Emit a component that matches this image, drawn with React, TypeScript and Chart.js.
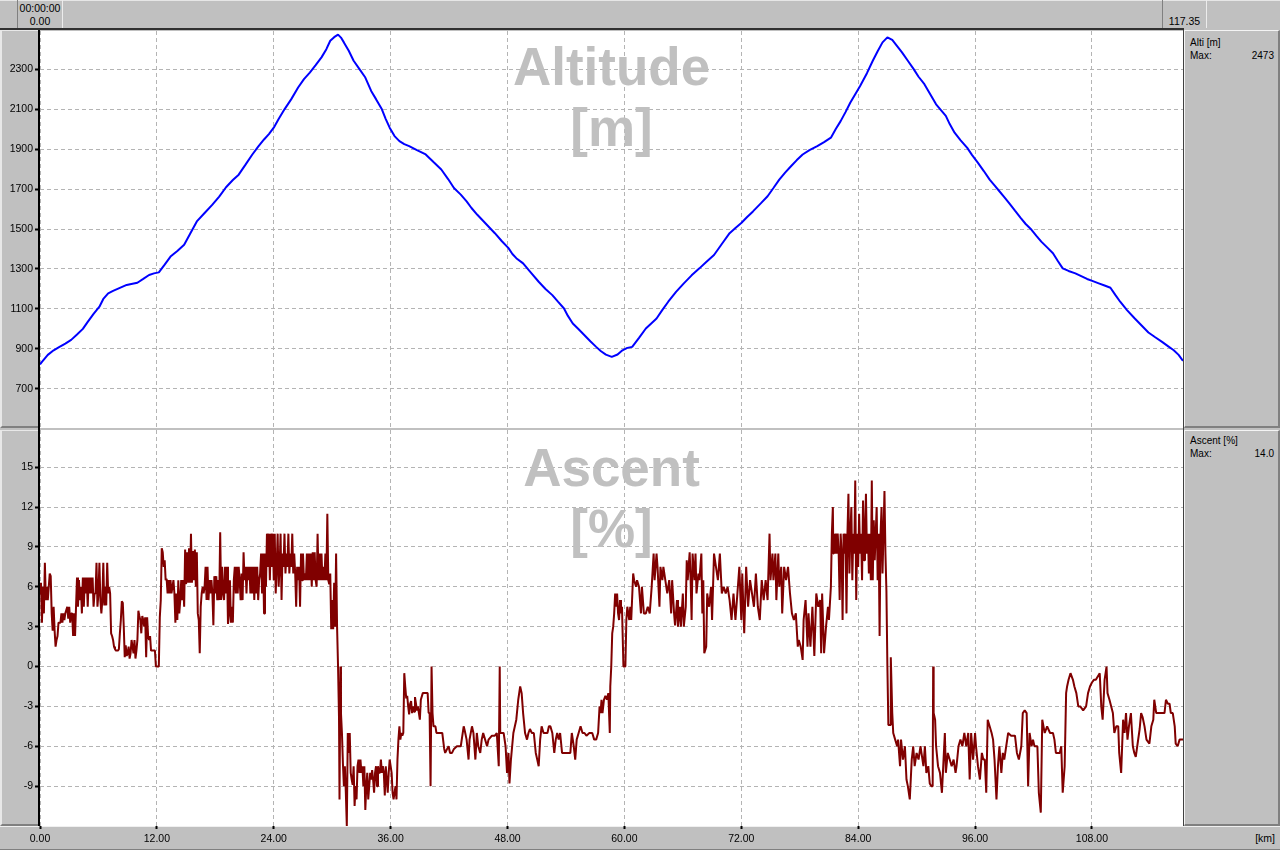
import React, { useEffect, useRef } from "react";
import { Chart, registerables } from "chart.js";

Chart.register(...registerables);

const FONT = '"Liberation Sans", Arial, sans-serif';
const KM_MAX = 117.35;
const ALT_MAX_LABEL = "2473";
const ASC_MAX_LABEL = "14.0";
const TRIP_TIME = "00:00:00";
const TRIP_START = "0.00";
const TRIP_END = "117.35";

const xTickValues = [0, 12, 24, 36, 48, 60, 72, 84, 96, 108];
const altTickValues = [700, 900, 1100, 1300, 1500, 1700, 1900, 2100, 2300];
const ascTickValues = [-9, -6, -3, 0, 3, 6, 9, 12, 15];

// Altitude profile: distance [km] and altitude [m]
const altKm = [0, 0.2, 0.8, 1.4, 2.0, 2.6, 3.2, 3.8, 4.4, 4.9, 5.5, 6.1, 6.5, 7.0, 7.5, 8.2, 8.9, 9.5, 10.0, 10.6, 11.2, 11.7, 12.2, 12.8, 13.4, 14.1, 14.8, 15.4, 16.1, 16.9, 17.7, 18.4, 19.1, 19.8, 20.4, 21.1, 21.8, 22.4, 23.0, 23.5, 24.0, 24.5, 25.1, 25.8, 26.5, 27.1, 27.7, 28.3, 28.9, 29.4, 29.8, 30.2, 30.6, 30.9, 31.2, 31.7, 32.2, 32.8, 33.4, 34.0, 34.5, 35.1, 35.5, 35.9, 36.4, 36.9, 37.4, 37.9, 38.7, 39.6, 40.4, 41.2, 41.9, 42.5, 43.2, 43.8, 44.3, 44.9, 45.8, 46.7, 47.4, 48.1, 48.5, 48.9, 49.6, 50.4, 51.2, 51.9, 52.6, 53.2, 53.8, 54.2, 54.7, 55.3, 55.9, 56.5, 57.1, 57.6, 58.1, 58.7, 59.3, 59.8, 60.3, 60.8, 61.5, 62.2, 62.7, 63.3, 63.9, 64.5, 65.3, 66.1, 66.9, 67.7, 68.4, 69.2, 70.0, 70.8, 71.4, 72.0, 72.6, 73.2, 74.0, 74.7, 75.3, 75.9, 76.5, 77.1, 77.7, 78.3, 79.0, 79.8, 80.5, 81.2, 81.7, 82.2, 82.7, 83.2, 83.7, 84.2, 84.9, 85.5, 86.0, 86.5, 87.0, 87.5, 88.0, 88.5, 89.1, 89.7, 90.2, 90.8, 91.4, 92.0, 92.5, 93.0, 93.4, 93.9, 94.5, 95.2, 95.7, 96.3, 96.9, 97.5, 98.0, 98.5, 99.0, 99.5, 100.1, 100.7, 101.2, 101.8, 102.3, 102.8, 103.4, 104.0, 104.5, 105.0, 105.6, 106.3, 106.9, 107.5, 108.1, 108.7, 109.3, 109.9, 110.4, 110.9, 111.6, 112.4, 113.1, 113.8, 114.5, 115.2, 115.8, 116.4, 116.9, 117.35];
const altM = [822, 835, 870, 893, 910, 926, 945, 972, 1000, 1035, 1075, 1111, 1150, 1178, 1190, 1205, 1220, 1226, 1231, 1250, 1270, 1278, 1283, 1322, 1362, 1390, 1421, 1475, 1538, 1580, 1622, 1662, 1709, 1745, 1772, 1822, 1873, 1912, 1948, 1975, 2007, 2050, 2099, 2150, 2208, 2250, 2283, 2320, 2359, 2400, 2442, 2460, 2473, 2458, 2434, 2392, 2342, 2300, 2258, 2191, 2150, 2099, 2050, 2007, 1965, 1940, 1925, 1915, 1895, 1873, 1835, 1798, 1750, 1705, 1672, 1638, 1605, 1571, 1525, 1479, 1440, 1404, 1375, 1354, 1328, 1282, 1236, 1200, 1169, 1135, 1102, 1065, 1027, 998, 968, 938, 910, 888, 871, 860, 872, 893, 905, 910, 955, 1002, 1025, 1052, 1095, 1136, 1185, 1228, 1268, 1303, 1335, 1370, 1425, 1479, 1505, 1530, 1560, 1588, 1628, 1664, 1705, 1747, 1782, 1814, 1845, 1873, 1895, 1915, 1935, 1957, 2000, 2040, 2085, 2133, 2175, 2216, 2280, 2342, 2390, 2434, 2459, 2446, 2415, 2384, 2342, 2300, 2262, 2225, 2175, 2124, 2095, 2066, 2025, 1982, 1945, 1906, 1870, 1831, 1790, 1747, 1718, 1689, 1660, 1630, 1592, 1555, 1525, 1496, 1466, 1437, 1408, 1379, 1340, 1303, 1290, 1278, 1264, 1250, 1239, 1228, 1217, 1206, 1170, 1136, 1094, 1052, 1017, 982, 958, 935, 914, 893, 870, 840];

// Ascent [%] as [km, percent] readings, by stage
const ascentStage1: [number, number][] = [
  [0.0, 5.5], [0.1, 6.3], [0.2, 3.3], [0.3, 6.0], [0.4, 4.0], [0.5, 7.8], [0.6, 5.0], [0.7, 6.0], [0.8, 5.0], [0.9, 6.0],
  [1.0, 7.0], [1.1, 6.8], [1.2, 4.0], [1.3, 2.7], [1.4, 4.5], [1.5, 2.7], [1.6, 1.5], [1.7, 2.0], [1.8, 2.3], [1.9, 3.3],
  [2.1, 3.3], [2.2, 4.0], [2.3, 3.3], [2.4, 4.0], [2.5, 3.5], [2.6, 4.0], [2.8, 4.5], [2.9, 3.6], [3.0, 4.5], [3.1, 3.3],
  [3.2, 4.0], [3.3, 4.0], [3.4, 2.3], [3.5, 4.0], [3.6, 2.3], [3.7, 4.5], [3.8, 6.7], [3.9, 4.5], [4.0, 6.5], [4.1, 5.0],
  [4.2, 6.0], [4.3, 4.0], [4.4, 6.7], [4.5, 4.5], [4.6, 6.7], [4.7, 5.5], [4.8, 6.7], [4.9, 4.5], [5.0, 6.7], [5.1, 5.5],
  [5.2, 6.7], [5.3, 5.5], [5.4, 6.7], [5.5, 4.5], [5.6, 5.5], [5.7, 5.5], [5.8, 7.8], [5.9, 4.5], [6.0, 5.5], [6.1, 7.8],
  [6.2, 5.0], [6.3, 4.0], [6.4, 5.0], [6.5, 7.8], [6.6, 4.6], [6.7, 6.0], [6.8, 4.6], [6.9, 7.8], [7.0, 5.5], [7.1, 6.0],
  [7.2, 5.5], [7.3, 2.5], [7.4, 2.3], [7.5, 2.0], [7.6, 1.5], [7.7, 1.3], [7.8, 1.2], [8.0, 1.2], [8.1, 1.3], [8.2, 2.5],
  [8.3, 3.5], [8.4, 4.9], [8.5, 4.8], [8.6, 3.0], [8.7, 0.7], [8.8, 1.6], [8.9, 0.8], [9.0, 1.0], [9.1, 1.5], [9.2, 0.6],
  [9.3, 1.0], [9.4, 2.0], [9.5, 1.5], [9.6, 1.0], [9.7, 2.0], [9.8, 0.6], [9.9, 1.2], [10.0, 2.0], [10.1, 4.2], [10.2, 3.8],
  [10.3, 3.5], [10.4, 2.5], [10.5, 3.8], [10.6, 3.5], [10.7, 3.0], [10.8, 3.7], [10.9, 0.7], [11.0, 3.7], [11.1, 2.3], [11.2, 2.0],
  [11.3, 2.3], [11.4, 1.2], [11.6, 1.2], [11.8, 1.2], [11.9, 0.0], [12.1, 0.0],
];
const ascentStage2: [number, number][] = [
  [12.2, 0.0], [12.3, 3.7], [12.4, 5.0], [12.5, 8.9], [12.6, 8.6], [12.7, 7.5], [12.8, 8.0], [12.9, 6.5], [13.0, 6.6], [13.1, 5.5],
  [13.2, 6.5], [13.3, 5.5], [13.4, 6.5], [13.5, 5.5], [13.6, 6.0], [13.7, 6.5], [13.8, 5.5], [13.9, 3.3], [14.0, 5.5], [14.1, 3.5],
  [14.2, 6.5], [14.3, 4.0], [14.4, 5.0], [14.5, 6.5], [14.6, 5.0], [14.7, 6.5], [14.8, 4.5], [14.9, 8.8], [15.0, 6.2], [15.1, 8.6],
  [15.2, 6.3], [15.3, 8.9], [15.4, 6.3], [15.5, 10.0], [15.6, 6.3], [15.7, 8.7], [15.8, 6.5], [15.9, 8.8], [16.0, 6.0], [16.1, 8.6],
  [16.2, 4.0], [16.3, 3.5], [16.4, 1.0], [16.5, 4.5], [16.6, 5.5], [16.7, 6.0], [16.8, 5.5], [16.9, 6.0], [17.0, 7.5], [17.1, 5.0],
  [17.2, 7.5], [17.3, 5.0], [17.4, 6.5], [17.5, 5.5], [17.6, 6.5], [17.7, 5.5], [17.8, 3.1], [17.9, 6.8], [18.0, 5.5], [18.1, 6.8],
  [18.2, 5.0], [18.3, 6.5], [18.4, 5.0], [18.5, 10.1], [18.6, 5.0], [18.7, 7.5], [18.8, 5.5], [18.9, 5.0], [19.0, 7.5], [19.1, 5.5],
  [19.2, 7.5], [19.3, 3.2], [19.4, 4.0], [19.5, 6.5], [19.6, 3.3], [19.7, 4.5], [19.8, 3.3], [19.9, 6.5], [20.0, 7.5], [20.1, 5.5],
  [20.2, 7.5], [20.3, 5.5], [20.4, 7.5], [20.5, 6.5], [20.6, 5.0], [20.7, 7.0], [20.8, 5.0], [20.9, 8.6], [21.0, 6.5], [21.1, 7.5],
  [21.2, 5.5], [21.3, 7.5], [21.4, 6.5], [21.5, 7.5], [21.6, 5.5], [21.7, 7.5], [21.8, 5.5], [21.9, 7.5], [22.0, 5.0], [22.1, 7.5],
  [22.2, 5.5], [22.3, 7.5], [22.4, 5.0], [22.5, 6.5], [22.6, 7.0], [22.7, 8.5], [22.8, 5.5], [22.9, 8.5], [23.0, 4.0], [23.1, 8.5],
  [23.2, 6.0], [23.3, 10.0], [23.4, 7.5], [23.5, 10.0], [23.6, 6.5], [23.7, 10.0], [23.8, 7.5], [23.9, 10.0], [24.0, 6.5], [24.1, 10.0],
  [24.2, 5.5], [24.3, 7.5], [24.4, 10.0], [24.5, 6.0], [24.6, 7.5], [24.7, 10.0], [24.8, 5.0], [24.9, 8.5], [25.0, 7.5], [25.1, 10.0],
  [25.2, 7.0], [25.3, 8.5], [25.4, 7.5], [25.5, 10.0], [25.6, 7.0], [25.7, 8.5], [25.8, 7.5], [25.9, 10.0], [26.0, 7.0], [26.1, 8.5],
  [26.2, 7.0], [26.3, 4.5], [26.4, 7.5], [26.5, 6.5], [26.6, 7.5], [26.7, 4.5], [26.8, 8.5], [26.9, 6.5], [27.0, 8.5], [27.1, 6.5],
  [27.2, 7.0], [27.3, 6.5], [27.4, 8.5], [27.5, 6.5], [27.6, 8.5], [27.7, 6.5], [27.8, 8.5], [27.9, 6.0], [28.0, 8.6], [28.1, 6.5],
  [28.2, 8.6], [28.3, 6.5], [28.4, 6.0], [28.5, 10.0], [28.6, 6.5], [28.7, 8.5], [28.8, 6.5], [28.9, 8.5], [29.0, 6.5], [29.1, 7.5],
  [29.2, 6.5], [29.3, 8.5], [29.4, 6.5], [29.5, 11.5], [29.6, 6.5], [29.7, 6.2], [29.8, 7.0], [29.9, 2.8], [30.0, 5.0], [30.1, 2.8],
  [30.2, 6.3], [30.3, 3.0], [30.4, 8.5], [30.5, 3.0],
];
const ascentStage3: [number, number][] = [
  [30.6, 0.0], [30.7, -3.9], [30.75, -10.0], [30.85, 0.0], [30.9, -3.5], [31.0, -5.0], [31.1, -7.3], [31.2, -9.0], [31.3, -7.5], [31.4, -9.5],
  [31.5, -12.0], [31.6, -5.0], [31.7, -6.5], [31.8, -5.0], [31.9, -8.0], [32.0, -8.5], [32.1, -8.9], [32.2, -7.5], [32.3, -10.5], [32.4, -9.0],
  [32.5, -10.0], [32.6, -7.5], [32.7, -7.0], [32.8, -8.0], [32.9, -7.0], [33.0, -8.0], [33.1, -7.5], [33.2, -9.0], [33.3, -7.5], [33.4, -10.8],
  [33.5, -9.0], [33.6, -8.0], [33.7, -10.0], [33.8, -9.0], [33.9, -8.0], [34.0, -8.5], [34.1, -7.8], [34.2, -8.5], [34.3, -9.5], [34.4, -8.0],
  [34.5, -7.5], [34.6, -9.0], [34.7, -7.5], [34.8, -8.0], [34.9, -8.0], [35.0, -7.0], [35.1, -8.0], [35.2, -7.5], [35.3, -8.0], [35.4, -9.7],
  [35.5, -7.5], [35.6, -8.5], [35.7, -9.5], [35.8, -8.0], [35.9, -7.0], [36.0, -7.5], [36.1, -8.0], [36.2, -9.5], [36.3, -10.0], [36.4, -9.5],
  [36.5, -9.0], [36.6, -10.0], [36.7, -7.0], [36.8, -5.5], [36.9, -4.5], [37.0, -5.5], [37.1, -5.0], [37.2, -5.2], [37.3, -5.0], [37.4, -0.5],
  [37.5, -1.5], [37.6, -2.4], [37.7, -2.2], [37.8, -3.0], [37.9, -3.6], [38.0, -2.8], [38.1, -2.6], [38.2, -3.5], [38.3, -3.0], [38.4, -3.4],
  [38.5, -2.3], [38.6, -2.8], [38.7, -3.3], [38.8, -3.0], [38.9, -3.5], [39.0, -4.0], [39.1, -2.5], [39.3, -2.0], [39.5, -2.0], [39.7, -2.0],
  [39.8, -2.0], [39.9, -3.5], [40.0, -3.5], [40.1, -9.0], [40.2, 0.0], [40.3, -3.5], [40.4, -4.5], [40.6, -4.5],
];
const ascentStage4: [number, number][] = [
  [40.7, -5.0], [41.0, -5.0], [41.3, -5.0], [41.5, -6.2], [41.6, -6.5], [41.8, -6.2], [41.95, -6.0], [42.1, -6.5], [42.3, -6.5], [42.5, -6.2],
  [42.8, -6.0], [43.0, -6.0], [43.2, -6.0], [43.5, -4.5], [43.6, -4.8], [43.8, -5.5], [44.0, -7.0], [44.1, -5.5], [44.35, -4.5], [44.5, -5.0],
  [44.7, -7.0], [44.85, -5.0], [45.0, -6.0], [45.2, -6.5], [45.35, -5.5], [45.5, -5.0], [45.7, -5.5], [45.9, -6.0], [46.05, -5.5], [46.4, -5.2],
  [46.7, -5.2], [46.9, -5.0], [47.1, -7.5], [47.2, 0.0], [47.25, -5.0], [47.4, -5.0], [47.6, -5.0], [47.8, -6.0], [47.95, -8.0], [48.1, -6.5],
  [48.2, -8.8], [48.35, -7.0], [48.6, -5.0], [48.9, -4.0], [49.1, -2.5], [49.3, -1.5], [49.45, -2.0], [49.6, -3.5], [49.8, -5.0], [50.0, -5.5],
  [50.15, -5.0], [50.3, -4.7], [50.5, -5.0], [50.7, -5.0], [50.9, -6.5], [51.05, -7.0], [51.2, -7.5], [51.35, -5.5], [51.5, -4.5], [51.7, -5.0],
  [51.9, -5.0], [52.1, -5.0], [52.25, -4.5], [52.4, -4.5], [52.6, -5.0], [52.8, -6.5], [52.95, -5.5], [53.1, -5.0], [53.25, -5.5], [53.4, -5.0],
  [53.6, -6.5], [53.9, -6.5], [54.2, -6.5], [54.45, -6.5], [54.6, -5.0], [54.8, -6.0], [54.95, -7.0], [55.1, -5.5], [55.3, -5.0], [55.5, -4.5],
  [55.7, -5.0], [55.9, -5.0], [56.1, -5.2], [56.4, -5.0], [56.7, -5.0], [56.9, -5.5], [57.1, -5.5], [57.3, -5.0], [57.45, -3.0], [57.55, -3.5],
  [57.65, -2.5], [57.75, -3.5], [57.9, -2.5], [58.05, -2.2], [58.2, -2.5], [58.35, -2.0], [58.5, -5.0], [58.55, -1.5], [58.65, 0.0], [58.75, 2.5],
  [58.85, 3.0], [58.95, 4.0], [59.05, 5.5], [59.15, 4.5], [59.25, 5.5], [59.35, 4.0], [59.45, 3.5], [59.55, 5.0], [59.65, 4.0], [59.75, 4.5],
  [59.9, 0.0], [60.1, 0.0],
];
const ascentStage5: [number, number][] = [
  [60.2, 3.5], [60.3, 4.5], [60.5, 3.5], [60.6, 4.5], [60.7, 3.5], [60.9, 7.0], [61.0, 6.5], [61.2, 6.0], [61.3, 6.5], [61.5, 6.0],
  [61.7, 4.0], [61.8, 6.0], [62.0, 4.0], [62.2, 4.0], [62.4, 4.5], [62.6, 4.0], [62.8, 6.0], [63.0, 8.5], [63.1, 6.5], [63.3, 8.5],
  [63.4, 7.5], [63.6, 4.5], [63.7, 7.5], [63.9, 6.5], [64.0, 7.5], [64.2, 6.5], [64.4, 5.5], [64.6, 6.5], [64.8, 4.0], [64.9, 6.5],
  [65.1, 4.0], [65.2, 3.1], [65.4, 5.0], [65.5, 3.0], [65.7, 4.5], [65.8, 3.0], [66.0, 5.5], [66.1, 3.0], [66.3, 4.5], [66.4, 8.0],
  [66.5, 6.5], [66.7, 8.6], [66.8, 6.5], [66.9, 3.5], [67.0, 8.5], [67.2, 6.5], [67.3, 8.5], [67.4, 5.5], [67.6, 7.0], [67.7, 6.5],
  [67.9, 8.5], [68.0, 4.0], [68.1, 6.5], [68.2, 1.0], [68.4, 1.5], [68.5, 5.5], [68.7, 4.5], [68.9, 6.0], [69.0, 3.5], [69.2, 8.5],
  [69.4, 7.5], [69.6, 6.5], [69.8, 8.5], [70.0, 5.5], [70.2, 6.0], [70.4, 5.5], [70.6, 6.0], [70.8, 5.0], [71.0, 3.5], [71.2, 5.5],
  [71.4, 3.5], [71.6, 5.5], [71.8, 7.5], [72.0, 3.5], [72.1, 7.0], [72.3, 2.5], [72.5, 7.5], [72.7, 4.5], [72.9, 6.5], [73.1, 5.5],
  [73.3, 4.5], [73.5, 7.0], [73.7, 4.5], [73.9, 3.5], [74.1, 6.5], [74.3, 5.0], [74.5, 6.5], [74.7, 5.0], [74.9, 10.0], [75.0, 6.5],
  [75.2, 8.5], [75.3, 6.5], [75.5, 8.5], [75.6, 5.0], [75.8, 8.5], [75.9, 6.0], [76.1, 7.5], [76.2, 4.0], [76.4, 7.5], [76.6, 6.5],
  [76.8, 7.5], [77.0, 5.5], [77.2, 4.0], [77.4, 3.5], [77.6, 4.0], [77.8, 1.5], [77.9, 2.0], [78.1, 1.5], [78.3, 0.5], [78.4, 3.5],
  [78.6, 5.0], [78.8, 1.5], [78.9, 4.0], [79.1, 1.5], [79.3, 4.5], [79.5, 0.8], [79.7, 5.5], [79.9, 4.5], [80.1, 5.0], [80.2, 1.0],
  [80.3, 5.5], [80.5, 1.0], [80.7, 3.0], [80.9, 4.5], [81.0, 3.5], [81.2, 6.0], [81.3, 10.0], [81.4, 12.0], [81.45, 8.5], [81.5, 10.0],
  [81.6, 8.5], [81.7, 10.0], [81.8, 8.5], [81.9, 10.0], [82.0, 8.5], [82.1, 5.0], [82.2, 10.0], [82.3, 8.5], [82.4, 3.5], [82.5, 10.0],
  [82.6, 8.5], [82.7, 10.0], [82.8, 4.0], [82.9, 10.0], [83.0, 13.0], [83.1, 7.0], [83.2, 10.0], [83.3, 12.0], [83.4, 6.5], [83.5, 10.0],
  [83.6, 8.5], [83.7, 14.0], [83.8, 5.0], [83.9, 10.0], [84.0, 7.5], [84.1, 11.5], [84.2, 8.5], [84.3, 10.0], [84.4, 6.5], [84.5, 12.5],
  [84.6, 8.0], [84.7, 10.0], [84.8, 13.0], [84.9, 8.5], [85.0, 10.0], [85.1, 7.0], [85.2, 10.0], [85.3, 6.5], [85.4, 14.0], [85.5, 6.5],
  [85.6, 11.0], [85.7, 8.0], [85.8, 10.0], [85.9, 12.0], [86.0, 6.5], [86.1, 10.0], [86.2, 2.3], [86.3, 10.0], [86.4, 12.0], [86.5, 7.0],
  [86.6, 10.0], [86.7, 13.2], [86.8, 8.5], [86.9, 5.7], [87.0, 0.0], [87.1, -4.4], [87.3, -4.4], [87.35, 0.7], [87.5, -3.5], [87.6, -5.0],
];
const ascentStage6: [number, number][] = [
  [87.8, -5.5], [88.0, -6.0], [88.1, -5.5], [88.3, -7.5], [88.4, -5.5], [88.6, -7.0], [88.8, -6.0], [88.96, -8.5], [89.1, -9.0], [89.3, -10.0],
  [89.4, -8.5], [89.5, -7.0], [89.65, -6.0], [89.8, -7.5], [90.0, -6.5], [90.2, -7.0], [90.4, -6.0], [90.5, -6.5], [90.7, -7.5], [90.85, -6.0],
  [91.0, -8.0], [91.2, -7.5], [91.35, -8.8], [91.5, -9.0], [91.65, -9.0], [91.7, 0.0], [91.75, -3.5], [91.9, -4.0], [92.0, -6.0], [92.2, -7.5],
  [92.4, -8.0], [92.6, -9.5], [92.7, -8.0], [92.9, -5.0], [93.0, -8.0], [93.2, -6.5], [93.4, -7.0], [93.6, -7.5], [93.8, -7.0], [94.0, -8.0],
  [94.1, -7.5], [94.3, -6.0], [94.5, -5.5], [94.7, -6.0], [94.9, -5.0], [95.1, -6.0], [95.3, -5.0], [95.45, -8.5], [95.6, -5.0], [95.8, -7.0],
  [96.0, -5.0], [96.1, -6.0], [96.3, -7.5], [96.5, -8.5], [96.7, -6.5], [96.85, -7.0], [97.0, -7.0], [97.15, -9.5], [97.3, -4.0], [97.5, -4.5],
  [97.7, -5.0], [97.85, -5.5], [98.0, -7.0], [98.2, -10.0], [98.35, -7.5], [98.5, -6.0], [98.7, -8.0], [98.85, -6.5], [99.0, -7.0], [99.2, -6.0],
  [99.4, -5.0], [99.7, -5.2], [100.1, -5.2], [100.3, -6.5], [100.5, -7.0], [100.75, -6.0], [100.9, -3.5], [101.1, -3.3], [101.3, -3.5], [101.45, -9.0],
  [101.6, -5.0], [101.8, -6.0], [101.95, -5.5], [102.1, -6.0], [102.4, -6.0], [102.55, -9.5], [102.75, -11.0], [102.9, -4.0], [103.15, -5.0], [103.4, -4.5],
  [103.7, -5.0], [104.0, -5.0], [104.15, -5.5], [104.3, -6.5], [104.7, -6.5], [104.85, -6.0], [105.0, -9.5], [105.2, -7.5], [105.35, -2.0], [105.45, -1.5],
  [105.6, -1.0], [105.8, -0.5], [106.05, -1.0], [106.2, -1.5], [106.4, -2.0], [106.6, -3.0], [106.8, -3.0], [107.1, -3.3], [107.4, -3.0], [107.6, -2.0],
  [107.8, -1.5], [108.0, -1.2], [108.2, -1.0], [108.4, -1.0], [108.8, -0.5], [108.96, -3.0], [109.1, -4.0], [109.3, -1.0], [109.5, 0.0], [109.6, -2.0],
  [109.8, -2.5], [110.15, -3.5], [110.3, -5.0], [110.5, -4.5], [110.7, -4.5], [110.8, -6.5], [111.0, -8.0], [111.2, -4.0], [111.35, -5.0], [111.5, -3.5],
  [111.65, -5.5], [111.8, -4.5], [112.0, -3.5], [112.2, -6.0], [112.35, -6.5], [112.5, -6.8], [112.9, -4.7], [113.05, -3.5], [113.2, -3.8], [113.4, -4.5],
  [113.6, -5.5], [113.9, -5.8], [114.1, -4.5], [114.3, -4.0], [114.4, -2.5], [114.6, -3.5], [114.8, -3.5], [115.1, -3.5], [115.45, -3.5], [115.6, -2.5],
  [115.8, -2.8], [115.97, -2.8], [116.1, -3.5], [116.3, -3.5], [116.5, -4.5], [116.6, -5.8], [116.8, -6.0], [117.0, -5.5], [117.35, -5.5],
];

const GRID = "#b4b4b4";
const TICK_FONT = { family: FONT, size: 10.5 };

function watermark(id: string, lines: string[], baselines: number[]) {
  return {
    id,
    beforeDraw(chart: any) {
      const { ctx, chartArea: a } = chart;
      ctx.save();
      ctx.fillStyle = "#ffffff";
      ctx.fillRect(a.left, a.top, a.right - a.left, a.bottom - a.top);
      ctx.restore();
    },
    beforeDatasetsDraw(chart: any) {
      const { ctx, chartArea: a } = chart;
      ctx.save();
      ctx.font = `bold 53px ${FONT}`;
      ctx.fillStyle = "#c0c0c0";
      ctx.textAlign = "center";
      ctx.textBaseline = "alphabetic";
      const cx = (a.left + a.right) / 2;
      lines.forEach((t, i) => ctx.fillText(t, cx, a.top + baselines[i]));
      ctx.restore();
    },
  };
}

function xScale(showLabels: boolean) {
  return {
    type: "linear",
    min: 0,
    max: KM_MAX,
    afterBuildTicks: (s: any) => {
      s.ticks = xTickValues.map((v) => ({ value: v }));
    },
    afterFit: (s: any) => {
      s.height = showLabels ? 24 : 0;
      s.paddingLeft = 0;
      s.paddingRight = 0;
      s.paddingTop = 0;
      s.paddingBottom = 0;
    },
    ticks: {
      display: showLabels,
      color: "#000",
      font: TICK_FONT,
      padding: 4,
      maxRotation: 0,
      autoSkip: false,
      callback: (v: any) => Number(v).toFixed(2),
    },
    grid: {
      color: GRID,
      lineWidth: 1,
      drawTicks: showLabels,
      tickColor: "#000",
      tickLength: 3,
      tickWidth: 2,
      tickBorderDash: [],
    },
    border: { display: false, dash: [4, 3] },
  };
}

function yScale(min: number, max: number, ticks: number[]) {
  return {
    type: "linear",
    min,
    max,
    afterBuildTicks: (s: any) => {
      s.ticks = ticks.map((v) => ({ value: v }));
    },
    afterFit: (s: any) => {
      s.width = 40;
      s.paddingLeft = 0;
      s.paddingRight = 0;
      s.paddingTop = 0;
      s.paddingBottom = 0;
    },
    ticks: {
      color: "#000",
      font: TICK_FONT,
      padding: 2,
      callback: (v: any) => String(v),
    },
    grid: {
      color: GRID,
      lineWidth: 1,
      tickColor: "#000",
      tickLength: 5,
      tickWidth: 2,
      tickBorderDash: [],
    },
    border: { display: false, dash: [4, 3] },
  };
}

const abs = (left: number, top: number, width: number, height: number, extra: any = {}) => ({
  position: "absolute" as const,
  left,
  top,
  width,
  height,
  boxSizing: "border-box" as const,
  ...extra,
});

export default function App() {
  const altRef = useRef<HTMLCanvasElement>(null);
  const ascRef = useRef<HTMLCanvasElement>(null);

  useEffect(() => {
    document.body.style.margin = "0";
    const altData = altKm.map((x, i) => ({ x, y: altM[i] }));
    const ascData = [
      ...ascentStage1,
      ...ascentStage2,
      ...ascentStage3,
      ...ascentStage4,
      ...ascentStage5,
      ...ascentStage6,
    ].map(([x, y]) => ({ x, y }));

    const common = {
      responsive: false,
      animation: false,
      devicePixelRatio: 1,
      layout: { padding: 0, autoPadding: false },
      plugins: { legend: { display: false }, tooltip: { enabled: false } },
      events: [],
    };

    const c1 = new Chart(altRef.current!, {
      type: "line",
      data: {
        datasets: [
          {
            data: altData,
            borderColor: "#0000ff",
            borderWidth: 2,
            pointRadius: 0,
            tension: 0,
            borderJoinStyle: "bevel",
          },
        ],
      },
      options: {
        ...common,
        scales: { x: xScale(false), y: yScale(504, 2491, altTickValues) },
      } as any,
      plugins: [watermark("wmAlt", ["Altitude", "[m]"], [54, 115])],
    });

    const c2 = new Chart(ascRef.current!, {
      type: "line",
      data: {
        datasets: [
          {
            data: ascData,
            borderColor: "#800000",
            borderWidth: 2,
            pointRadius: 0,
            tension: 0,
            borderJoinStyle: "bevel",
          },
        ],
      },
      options: {
        ...common,
        scales: { x: xScale(true), y: yScale(-12.0, 17.8, ascTickValues) },
      } as any,
      plugins: [watermark("wmAsc", ["Ascent", "[%]"], [56, 117])],
    });

    return () => {
      c1.destroy();
      c2.destroy();
    };
  }, []);

  const small = { fontSize: 10, lineHeight: "12px", whiteSpace: "nowrap" as const };
  const mid = { fontSize: 10.5, lineHeight: "12px", whiteSpace: "nowrap" as const };
  const bevel = {
    background: "#c0c0c0",
    borderTop: "1px solid #f4f4f4",
    borderLeft: "1px solid #f4f4f4",
    borderRight: "2px solid #808080",
    borderBottom: "2px solid #808080",
  };

  return (
    <div
      style={{
        position: "fixed",
        left: 0,
        top: 0,
        width: 1280,
        height: 850,
        background: "#c0c0c0",
        overflow: "hidden",
        fontFamily: FONT,
        color: "#000",
      }}
    >
      {/* top bar */}
      <div style={abs(0, 0, 1280, 1, { background: "#e6e6e6" })} />
      <div style={abs(17, 0, 1, 28, { background: "#808080" })} />
      <div style={abs(62, 0, 1, 28, { background: "#ececec" })} />
      <div style={abs(18, 2, 44, 12, { ...mid, textAlign: "center" })}>{TRIP_TIME}</div>
      <div style={abs(18, 15, 44, 12, { ...mid, textAlign: "center" })}>{TRIP_START}</div>
      <div style={abs(1162, 0, 1, 28, { background: "#808080" })} />
      <div style={abs(1206, 0, 1, 28, { background: "#ececec" })} />
      <div style={abs(1163, 15, 43, 12, { ...mid, textAlign: "center" })}>{TRIP_END}</div>
      <div style={abs(0, 28, 1184, 2, { background: "#303030" })} />

      {/* left axis boxes */}
      <div style={abs(0, 30, 38, 398, { background: "#c0c0c0", borderTop: "1px solid #e8e8e8", borderLeft: "2px solid #e8e8e8", borderBottom: "2px solid #808080" })} />
      <div style={abs(0, 430, 38, 396, { background: "#c0c0c0", borderTop: "1px solid #e8e8e8", borderLeft: "2px solid #e8e8e8", borderBottom: "2px solid #808080" })} />
      <div style={abs(38, 30, 2, 796, { background: "#000" })} />

      {/* right legend panels */}
      <div style={abs(1183, 30, 1, 796, { background: "#404040" })} />
      <div style={abs(1184, 30, 96, 398, bevel)} />
      <div style={abs(1190, 37, 80, 12, small)}>Alti [m]</div>
      <div style={abs(1190, 50, 40, 12, small)}>Max:</div>
      <div style={abs(1224, 50, 50, 12, { ...small, textAlign: "right" })}>{ALT_MAX_LABEL}</div>
      <div style={abs(1184, 430, 96, 396, bevel)} />
      <div style={abs(1190, 435, 80, 12, small)}>Ascent [%]</div>
      <div style={abs(1190, 448, 40, 12, small)}>Max:</div>
      <div style={abs(1224, 448, 50, 12, { ...small, textAlign: "right" })}>{ASC_MAX_LABEL}</div>

      {/* bottom bar */}
      <div style={abs(0, 826, 1280, 24, { background: "#c0c0c0", borderTop: "1px solid #f0f0f0", borderBottom: "1px solid #808080" })} />
      <div style={abs(1224, 832, 51, 12, { ...mid, textAlign: "right" })}>[km]</div>

      <canvas
        ref={altRef}
        width={1183}
        height={397}
        style={{ position: "absolute", left: 0, top: 31, width: 1183, height: 397 }}
      />
      <canvas
        ref={ascRef}
        width={1183}
        height={420}
        style={{ position: "absolute", left: 0, top: 430, width: 1183, height: 420 }}
      />
    </div>
  );
}
